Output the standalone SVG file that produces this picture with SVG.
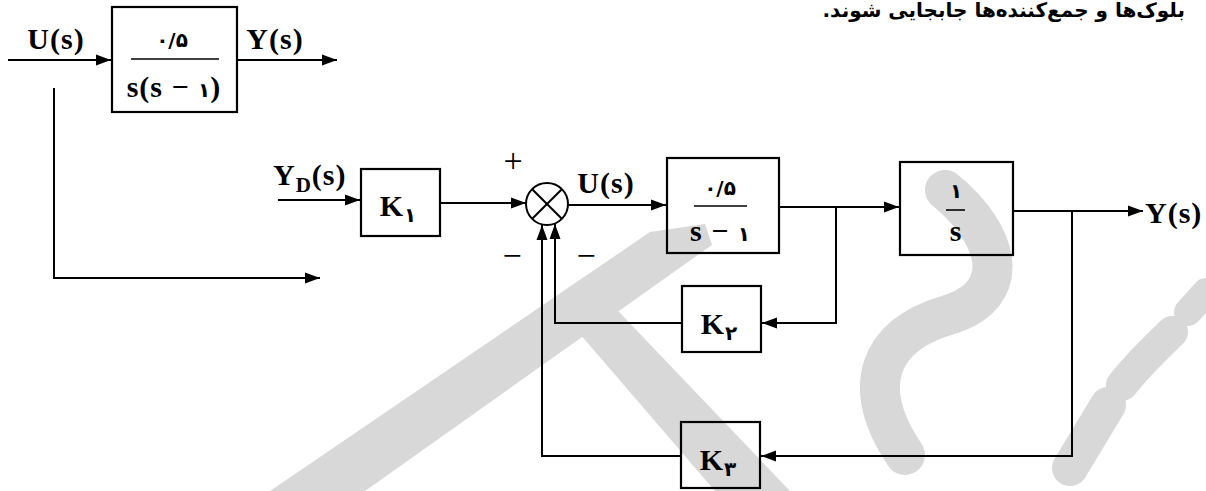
<svg xmlns="http://www.w3.org/2000/svg" width="1206" height="491" viewBox="0 0 1206 491">
  <defs>
    <marker id="arr" markerUnits="userSpaceOnUse" markerWidth="16" markerHeight="12" refX="15" refY="6" orient="auto">
      <path d="M0,0.5 L15,6 L0,11.5 z" fill="#000"/>
    </marker>
    <style>
      .ln { fill: none; stroke: #000; stroke-width: 2; }
      .box { fill: none; stroke: #000; stroke-width: 2.2; }
      .frac { stroke: #000; stroke-width: 1.6; }
      .lbl { font-family: "Liberation Serif", "DejaVu Sans", serif; font-weight: bold; font-size: 30px; letter-spacing: 1px; fill: #000; }
      .num { font-family: "DejaVu Sans", "Liberation Serif", sans-serif; font-weight: bold; font-size: 20px; letter-spacing: 0; fill: #000; }
      .sgn { font-family: "Liberation Serif", serif; font-size: 34px; fill: #000; }
      .wm { fill: #d8d8d8; }
      .wms { fill: none; stroke: #d8d8d8; stroke-linecap: round; }
    </style>
  </defs>

  <rect width="1206" height="491" fill="#fff"/>

  <!-- light grey logo in the background -->
  <g id="watermark">
    <polygon class="wm" points="650,232 705,224 712,245 365,491 270,491"/>
    <polygon class="wm" points="555,305 600,292 790,491 715,491"/>
    <path class="wms" stroke-width="40" d="M945,190 C1000,235 1015,295 948,315 C880,335 858,385 905,455"/>
    <path class="wms" stroke-width="36" d="M1070,468 L1108,405"/>
    <path class="wms" stroke-width="32" d="M1122,385 C1140,362 1158,346 1172,332"/>
    <path class="wms" stroke-width="28" d="M1188,312 L1206,292"/>
  </g>

  <!-- caption line at the top -->
  <text x="1185" y="17" direction="rtl" class="num" font-size="14">بلوک‌ها و جمع‌کننده‌ها جابجایی شوند.</text>

  <g id="connectors">
    <!-- open-loop plant -->
    <path class="ln" d="M8,60 H111" marker-end="url(#arr)"/>
    <path class="ln" d="M237,60 H337" marker-end="url(#arr)"/>
    <path class="ln" d="M54,88 V278 H320" marker-end="url(#arr)"/>
    <!-- closed loop -->
    <path class="ln" d="M278,200 H360" marker-end="url(#arr)"/>
    <path class="ln" d="M440,203 H526" marker-end="url(#arr)"/>
    <path class="ln" d="M568,205 H666" marker-end="url(#arr)"/>
    <path class="ln" d="M779,207 H899" marker-end="url(#arr)"/>
    <path class="ln" d="M836,207 V323 H762" marker-end="url(#arr)"/>
    <path class="ln" d="M1013,211 H1143" marker-end="url(#arr)"/>
    <path class="ln" d="M1072,211 V456 H761" marker-end="url(#arr)"/>
    <path class="ln" d="M682,323 H555 V224" marker-end="url(#arr)"/>
    <path class="ln" d="M681,456 H542 V225" marker-end="url(#arr)"/>
  </g>

  <!-- signal labels -->
  <text class="lbl" x="56" y="49" text-anchor="middle">U(s)</text>
  <text class="lbl" x="275" y="49" text-anchor="middle">Y(s)</text>
  <text class="lbl" x="273" y="185">Y<tspan font-size="21" dy="7">D</tspan><tspan dy="-7">(s)</tspan></text>
  <text class="lbl" x="606" y="193" text-anchor="middle">U(s)</text>
  <text class="lbl" x="1145" y="223">Y(s)</text>

  <g id="plant-open">
    <rect class="box" x="112" y="7" width="125" height="105"/>
    <line class="frac" x1="131" y1="59" x2="219" y2="59"/>
    <text class="num" x="172" y="47" text-anchor="middle">۰/۵</text>
    <text class="lbl" x="174" y="97" text-anchor="middle" font-size="26" letter-spacing="0">s(s − <tspan class="num" font-size="22">۱</tspan>)</text>
  </g>

  <g id="k1">
    <rect class="box" x="361" y="169" width="79" height="67"/>
    <text class="lbl" x="398" y="216" text-anchor="middle" font-size="32">K<tspan class="num" font-size="17" dy="6">۱</tspan></text>
  </g>

  <g id="sum">
    <circle class="ln" cx="547" cy="204" r="21"/>
    <line class="ln" x1="532.2" y1="189.2" x2="561.8" y2="218.8"/>
    <line class="ln" x1="561.8" y1="189.2" x2="532.2" y2="218.8"/>
    <text class="sgn" x="513" y="172" text-anchor="middle">+</text>
    <text class="sgn" x="512" y="267" text-anchor="middle">−</text>
    <text class="sgn" x="586" y="267" text-anchor="middle">−</text>
  </g>

  <g id="plant-first">
    <rect class="box" x="667" y="158" width="112" height="95"/>
    <line class="frac" x1="694" y1="206" x2="747" y2="206"/>
    <text class="num" x="720" y="195" text-anchor="middle">۰/۵</text>
    <text class="lbl" x="720" y="241" text-anchor="middle" font-size="26" letter-spacing="0">s − <tspan class="num" font-size="22">۱</tspan></text>
  </g>

  <g id="integrator">
    <rect class="box" x="900" y="162" width="113" height="93"/>
    <line class="frac" x1="946" y1="210" x2="965" y2="210"/>
    <text class="num" x="956" y="198" text-anchor="middle">۱</text>
    <text class="lbl" x="956" y="241" text-anchor="middle" font-size="26">s</text>
  </g>

  <g id="k2">
    <rect class="box" x="682" y="286" width="79" height="66"/>
    <text class="lbl" x="719" y="334" text-anchor="middle" font-size="32">K<tspan class="num" font-size="17" dy="6">۲</tspan></text>
  </g>

  <g id="k3">
    <rect class="box" x="681" y="422" width="79" height="66"/>
    <text class="lbl" x="718" y="470" text-anchor="middle" font-size="32">K<tspan class="num" font-size="17" dy="6">۳</tspan></text>
  </g>
</svg>
